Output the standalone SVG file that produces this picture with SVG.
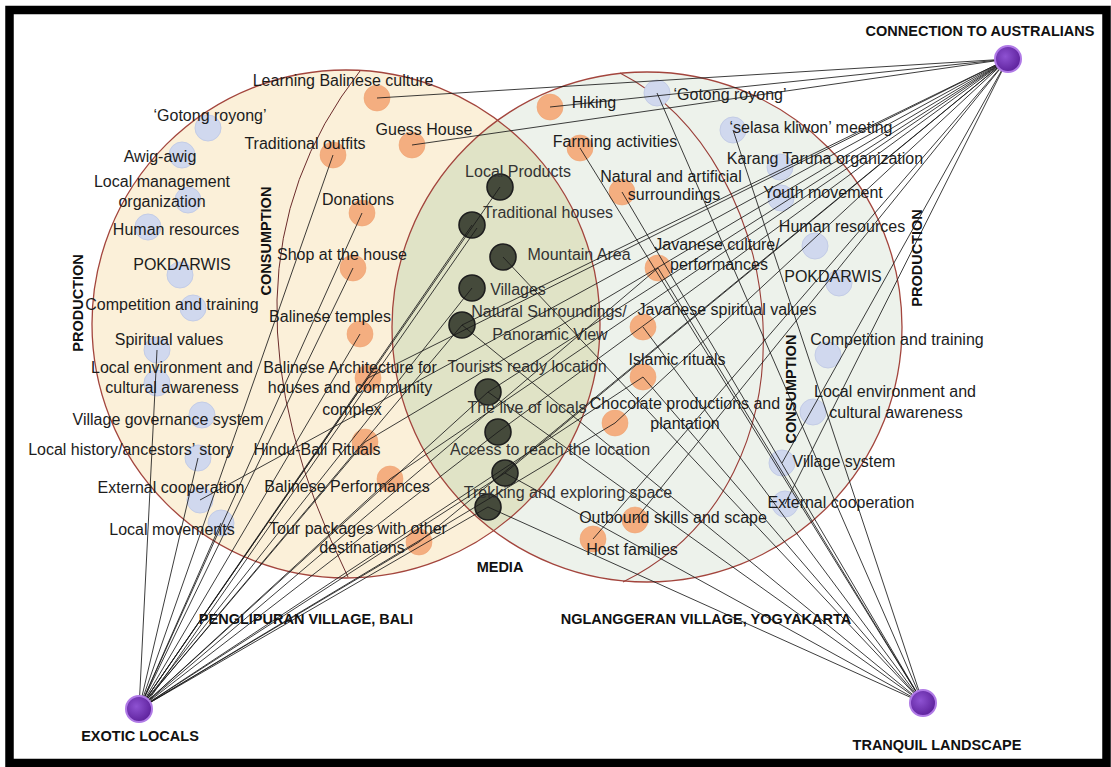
<svg xmlns="http://www.w3.org/2000/svg" width="1111" height="767" viewBox="0 0 1111 767">
<defs>
<style>
.t{font-family:"Liberation Sans",Arial,sans-serif;font-size:16px;fill:#1c1c1c}
.m{text-anchor:middle}
.b{font-weight:bold;font-size:14.5px;fill:#111}
.md{fill:#333}
.blue{fill:#d0d8ee;stroke:#c3cce6;stroke-width:1}
.org{fill:#f4ae80;stroke:#efa372;stroke-width:.6}
.dark{fill:#454a3b;stroke:#1e1e1e;stroke-width:1.6}
.hub{fill:url(#hubg);stroke:#b07ae6;stroke-width:2}
.ln{stroke:#1a1a1a;stroke-width:.85;fill:none}
.edge{fill:none;stroke:#a3453d;stroke-width:1.3}
.divl{fill:none;stroke:#6b2b2b;stroke-width:1}
.divr{fill:none;stroke:#9a3e38;stroke-width:1.1}
</style>
<clipPath id="clipL"><ellipse cx="346" cy="324" rx="254" ry="254"/></clipPath>
<radialGradient id="hubg" cx="0.4" cy="0.4" r="0.65"><stop offset="0" stop-color="#8e52d2"/><stop offset="1" stop-color="#5b1f99"/></radialGradient>
</defs>
<rect width="1111" height="767" fill="#fff"/>
<rect x="9.5" y="10" width="1097" height="753" fill="none" stroke="#000" stroke-width="8.5"/>

<g id="venn">
<ellipse id="bali-area" cx="346" cy="324" rx="254" ry="254" fill="#fbf0d9"/>
<ellipse id="yogya-area" cx="647" cy="327" rx="255" ry="255" fill="#edf2eb"/>
<ellipse id="media-area" cx="647" cy="327" rx="255" ry="255" fill="#e0e3c6" clip-path="url(#clipL)"/>
<ellipse cx="346" cy="324" rx="254" ry="254" class="edge"/>
<ellipse cx="647" cy="327" rx="255" ry="255" class="edge"/>
<path class="divl" d="M360,71 Q200,276 348,577"/>
<path class="divr" d="M620,73 C790,160 830,480 623,582"/>
</g>

<g id="section-labels">
<text class="t b m" transform="translate(83,303) rotate(-90)">PRODUCTION</text>
<text class="t b m" transform="translate(271,241) rotate(-90)">CONSUMPTION</text>
<text class="t b m" transform="translate(922,258) rotate(-90)">PRODUCTION</text>
<text class="t b m" transform="translate(796,389) rotate(-90)">CONSUMPTION</text>
<text class="t b m" x="500" y="572">MEDIA</text>
<text class="t b m" x="306" y="624">PENGLIPURAN VILLAGE, BALI</text>
<text class="t b m" x="706" y="624">NGLANGGERAN VILLAGE, YOGYAKARTA</text>
</g>

<!-- Bali production -->
<g id="gotong-l"><circle class="blue" cx="208" cy="128" r="13"/><text class="t m" x="210" y="121">‘Gotong royong’</text></g>
<g id="awig"><circle class="blue" cx="182" cy="155" r="13"/><text class="t m" x="160" y="162">Awig-awig</text></g>
<g id="local-mgmt"><circle class="blue" cx="188" cy="200" r="13"/><text class="t m" x="162" y="187">Local management</text><text class="t m" x="162" y="207">organization</text></g>
<g id="human-res-l"><circle class="blue" cx="148" cy="227" r="13"/><text class="t m" x="176" y="235">Human resources</text></g>
<g id="pokdarwis-l"><circle class="blue" cx="180" cy="275" r="13"/><text class="t m" x="182" y="270">POKDARWIS</text></g>
<g id="competition-l"><circle class="blue" cx="193" cy="308" r="13"/><text class="t m" x="172" y="310">Competition and training</text></g>
<g id="spiritual"><circle class="blue" cx="157" cy="350" r="13"/><text class="t m" x="169" y="345">Spiritual values</text></g>
<g id="local-env-l"><circle class="blue" cx="157" cy="383" r="13"/><text class="t m" x="172" y="373">Local environment and</text><text class="t m" x="172" y="393">cultural awareness</text></g>
<g id="village-gov"><circle class="blue" cx="202" cy="415" r="13"/><text class="t m" x="168" y="425">Village governance system</text></g>
<g id="local-history"><circle class="blue" cx="198" cy="458" r="13"/><text class="t m" x="131" y="455">Local history/ancestors’ story</text></g>
<g id="ext-coop-l"><circle class="blue" cx="200" cy="500" r="13"/><text class="t m" x="171" y="493">External cooperation</text></g>
<g id="local-mov"><circle class="blue" cx="221" cy="523" r="13"/><text class="t m" x="172" y="535">Local movements</text></g>

<!-- Bali consumption -->
<g id="learning"><circle class="org" cx="377" cy="98" r="13"/><text class="t m" x="343" y="86">Learning Balinese culture</text></g>
<g id="guess-house"><circle class="org" cx="412" cy="145" r="13"/><text class="t m" x="424" y="135">Guess House</text></g>
<g id="trad-outfits"><circle class="org" cx="333" cy="155" r="13"/><text class="t m" x="305" y="149">Traditional outfits</text></g>
<g id="donations"><circle class="org" cx="362" cy="213" r="13"/><text class="t m" x="358" y="205">Donations</text></g>
<g id="shop"><circle class="org" cx="353" cy="268" r="13"/><text class="t m" x="342" y="260">Shop at the house</text></g>
<g id="temples"><circle class="org" cx="360" cy="334" r="13"/><text class="t m" x="330" y="322">Balinese temples</text></g>
<g id="architecture"><circle class="org" cx="368" cy="378" r="13"/><text class="t m" x="350" y="373">Balinese Architecture for</text><text class="t m" x="350" y="393">houses and community</text><text class="t m" x="352" y="415">complex</text></g>
<g id="hindu"><circle class="org" cx="365" cy="442" r="13"/><text class="t m" x="317" y="455">Hindu-Bali Rituals</text></g>
<g id="performances"><circle class="org" cx="390" cy="479" r="13"/><text class="t m" x="347" y="492">Balinese Performances</text></g>
<g id="tour-packages"><circle class="org" cx="419" cy="542" r="13"/><text class="t m" x="358" y="534">Tour packages with other</text><text class="t m" x="362" y="553">destinations</text></g>

<!-- Media -->
<g id="local-products"><circle class="dark" cx="500" cy="187" r="13"/><text class="t m md" x="518" y="177">Local Products</text></g>
<g id="trad-houses"><circle class="dark" cx="472" cy="225" r="13"/><text class="t m md" x="548" y="218">Traditional houses</text></g>
<g id="mountain"><circle class="dark" cx="503" cy="257" r="13"/><text class="t m md" x="579" y="260">Mountain Area</text></g>
<g id="villages"><circle class="dark" cx="472" cy="288" r="13"/><text class="t m md" x="518" y="295">Villages</text></g>
<g id="nat-surr"><circle class="dark" cx="462" cy="325" r="13"/><text class="t m md" x="549" y="317">Natural Surroundings/</text><text class="t m md" x="550" y="340">Panoramic View</text></g>
<g id="tourists"><circle class="dark" cx="488" cy="392" r="13"/><text class="t m md" x="527" y="372">Tourists ready location</text></g>
<g id="live-locals"><circle class="dark" cx="498" cy="432" r="13"/><text class="t m md" x="527" y="413">The live of locals</text></g>
<g id="access"><circle class="dark" cx="505" cy="473" r="13"/><text class="t m md" x="550" y="455">Access to reach the location</text></g>
<g id="trekking"><circle class="dark" cx="488" cy="507" r="13"/><text class="t m md" x="568" y="498">Trekking and exploring space</text></g>

<!-- Yogyakarta consumption -->
<g id="hiking"><circle class="org" cx="550" cy="107" r="13"/><text class="t m" x="594" y="108">Hiking</text></g>
<g id="farming"><circle class="org" cx="580" cy="148" r="13"/><text class="t m" x="615" y="147">Farming activities</text></g>
<g id="nat-art"><circle class="org" cx="622" cy="192" r="13"/><text class="t m" x="671" y="182">Natural and artificial</text><text class="t m" x="674" y="200">surroundings</text></g>
<g id="java-culture"><circle class="org" cx="658" cy="268" r="13"/><text class="t m" x="717" y="250">Javanese culture/</text><text class="t m" x="719" y="270">performances</text></g>
<g id="java-spirit"><circle class="org" cx="643" cy="327" r="13"/><text class="t m" x="727" y="315">Javanese spiritual values</text></g>
<g id="islamic"><circle class="org" cx="643" cy="377" r="13"/><text class="t m" x="677" y="365">Islamic rituals</text></g>
<g id="chocolate"><circle class="org" cx="615" cy="423" r="13"/><text class="t m" x="685" y="409">Chocolate productions and</text><text class="t m" x="685" y="429">plantation</text></g>
<g id="outbound"><circle class="org" cx="635" cy="520" r="13"/><text class="t m" x="673" y="523">Outbound skills and scape</text></g>
<g id="host-families"><circle class="org" cx="593" cy="539" r="13"/><text class="t m" x="632" y="555">Host families</text></g>

<!-- Yogyakarta production -->
<g id="gotong-r"><circle class="blue" cx="657" cy="93" r="13"/><text class="t m" x="730" y="100">‘Gotong royong’</text></g>
<g id="selasa"><circle class="blue" cx="733" cy="130" r="13"/><text class="t m" x="811" y="133">‘selasa kliwon’ meeting</text></g>
<g id="karang"><circle class="blue" cx="780" cy="167" r="13"/><text class="t m" x="825" y="164">Karang Taruna organization</text></g>
<g id="youth"><circle class="blue" cx="781" cy="198" r="13"/><text class="t m" x="823" y="198">Youth movement</text></g>
<g id="human-res-r"><circle class="blue" cx="815" cy="246" r="13"/><text class="t m" x="842" y="232">Human resources</text></g>
<g id="pokdarwis-r"><circle class="blue" cx="839" cy="283" r="13"/><text class="t m" x="833" y="282">POKDARWIS</text></g>
<g id="competition-r"><circle class="blue" cx="828" cy="355" r="13"/><text class="t m" x="897" y="345">Competition and training</text></g>
<g id="local-env-r"><circle class="blue" cx="813" cy="412" r="13"/><text class="t m" x="895" y="397">Local environment and</text><text class="t m" x="896" y="418">cultural awareness</text></g>
<g id="village-sys"><circle class="blue" cx="782" cy="463" r="13"/><text class="t m" x="844" y="467">Village system</text></g>
<g id="ext-coop-r"><circle class="blue" cx="785" cy="504" r="13"/><text class="t m" x="841" y="508">External cooperation</text></g>

<g id="connectors" class="ln">
<!-- Connection to Australians -->
<line x1="1008" y1="59" x2="377" y2="98"/>
<line x1="1008" y1="59" x2="412" y2="145"/>
<line x1="1008" y1="59" x2="550" y2="107"/>
<line x1="1008" y1="59" x2="368" y2="378"/>
<line x1="1008" y1="59" x2="365" y2="442"/>
<line x1="1008" y1="59" x2="390" y2="479"/>
<line x1="1008" y1="59" x2="419" y2="542"/>
<line x1="1008" y1="59" x2="200" y2="500"/>
<line x1="1008" y1="59" x2="488" y2="392"/>
<line x1="1008" y1="59" x2="498" y2="432"/>
<line x1="1008" y1="59" x2="505" y2="473"/>
<line x1="1008" y1="59" x2="462" y2="325"/>
<line x1="1008" y1="59" x2="615" y2="423"/>
<line x1="1008" y1="59" x2="635" y2="520"/>
<line x1="1008" y1="59" x2="593" y2="539"/>
<line x1="1008" y1="59" x2="785" y2="504"/>
<line x1="1008" y1="59" x2="782" y2="463"/>
<!-- Exotic locals -->
<line x1="139" y1="709" x2="157" y2="350"/>
<line x1="139" y1="709" x2="198" y2="458"/>
<line x1="139" y1="709" x2="221" y2="523"/>
<line x1="139" y1="709" x2="333" y2="155"/>
<line x1="139" y1="709" x2="362" y2="213"/>
<line x1="139" y1="709" x2="353" y2="268"/>
<line x1="139" y1="709" x2="360" y2="334"/>
<line x1="139" y1="709" x2="368" y2="378"/>
<line x1="139" y1="709" x2="365" y2="442"/>
<line x1="139" y1="709" x2="390" y2="479"/>
<line x1="139" y1="709" x2="419" y2="542"/>
<line x1="139" y1="709" x2="500" y2="187"/>
<line x1="139" y1="709" x2="472" y2="225"/>
<line x1="141" y1="711" x2="477" y2="228"/>
<line x1="139" y1="709" x2="472" y2="288"/>
<line x1="139" y1="709" x2="462" y2="325"/>
<line x1="139" y1="709" x2="488" y2="392"/>
<line x1="139" y1="709" x2="498" y2="432"/>
<line x1="139" y1="709" x2="505" y2="473"/>
<line x1="139" y1="709" x2="488" y2="507"/>
<line x1="139" y1="709" x2="658" y2="268"/>
<line x1="139" y1="709" x2="643" y2="377"/>
<line x1="139" y1="709" x2="615" y2="423"/>
<!-- Tranquil landscape -->
<line x1="923" y1="703" x2="657" y2="93"/>
<line x1="923" y1="703" x2="733" y2="130"/>
<line x1="923" y1="703" x2="580" y2="148"/>
<line x1="923" y1="703" x2="622" y2="192"/>
<line x1="923" y1="703" x2="658" y2="268"/>
<line x1="923" y1="703" x2="643" y2="327"/>
<line x1="923" y1="703" x2="643" y2="377"/>
<line x1="923" y1="703" x2="503" y2="257"/>
<line x1="923" y1="703" x2="462" y2="325"/>
<line x1="923" y1="703" x2="488" y2="392"/>
<line x1="923" y1="703" x2="505" y2="473"/>
<line x1="923" y1="703" x2="488" y2="507"/>
</g>

<g id="hub-australians"><circle class="hub" cx="1008" cy="59" r="13"/><text class="t b m" x="980" y="36">CONNECTION TO AUSTRALIANS</text></g>
<g id="hub-exotic"><circle class="hub" cx="139" cy="709" r="13"/><text class="t b m" x="140" y="741">EXOTIC LOCALS</text></g>
<g id="hub-tranquil"><circle class="hub" cx="923" cy="703" r="13"/><text class="t b m" x="937" y="750">TRANQUIL LANDSCAPE</text></g>
</svg>
